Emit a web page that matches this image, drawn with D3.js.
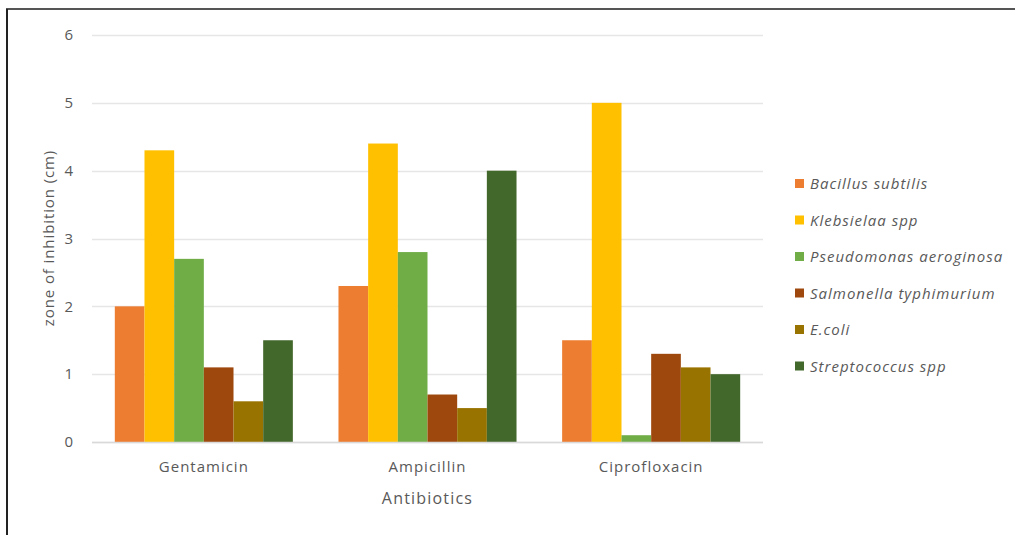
<!DOCTYPE html>
<html>
<head>
<meta charset="utf-8">
<script src="https://cdn.jsdelivr.net/npm/d3@7"></script>
<style>
  html, body { margin: 0; padding: 0; background: #fff; }
  svg { display: block; }
  text { font-family: "Open Sans", "DejaVu Sans", sans-serif; fill: #595959; }
</style>
</head>
<body>
<svg id="chart" width="1015" height="535"></svg>
<script>
// Antibiotics tested and bacterial strains
const antibiotics = ["Gentamicin", "Ampicillin", "Ciprofloxacin"];
const strains = ["Bacillus subtilis", "Klebsielaa spp", "Pseudomonas aeroginosa",
                 "Salmonella typhimurium", "E.coli", "Streptococcus spp"];

// Zone of inhibition (cm), one array per strain, ordered as antibiotics
const bacillusSubtilis      = [2.0, 2.3, 1.5];
const klebsielaaSpp         = [4.3, 4.4, 5.0];
const pseudomonasAeroginosa = [2.7, 2.8, 0.1];
const salmonellaTyphimurium = [1.1, 0.7, 1.3];
const eColi                 = [0.6, 0.5, 1.1];
const streptococcusSpp      = [1.5, 4.0, 1.0];

const yTicks = [0, 1, 2, 3, 4, 5, 6];
const colors = ["#ED7D31", "#FFC000", "#70AD47", "#9E480E", "#997300", "#43682B"];

const seriesValues = [bacillusSubtilis, klebsielaaSpp, pseudomonasAeroginosa,
                      salmonellaTyphimurium, eColi, streptococcusSpp];

const svg = d3.select("#chart");

// frame lines (top and left)
svg.append("line").attr("x1", 6).attr("x2", 1015).attr("y1", 9).attr("y2", 9)
  .attr("stroke", "#555").attr("stroke-width", 2);
svg.append("line").attr("x1", 7).attr("x2", 7).attr("y1", 9).attr("y2", 535)
  .attr("stroke", "#222").attr("stroke-width", 2);

const plot = { left: 92, right: 763, top: 35, bottom: 442 };

const x0 = d3.scaleBand().domain(antibiotics)
  .range([plot.left, plot.right]).paddingInner(0.204).paddingOuter(0.102);
const x1 = d3.scaleBand().domain(strains).range([0, x0.bandwidth()]);
const y = d3.scaleLinear().domain([0, 6]).range([plot.bottom, plot.top]);

// gridlines
svg.append("g").selectAll("line").data(yTicks).join("line")
  .attr("x1", plot.left).attr("x2", plot.right)
  .attr("y1", d => Math.round(y(d)) + 0.5).attr("y2", d => Math.round(y(d)) + 0.5)
  .attr("stroke", "#e6e6e6").attr("stroke-width", 1.5);

// y axis tick labels
const yAxis = svg.append("g").attr("transform", `translate(${plot.left},0)`)
  .call(d3.axisLeft(y).tickValues(yTicks).tickFormat(d3.format("d")).tickSize(0).tickPadding(19));
yAxis.select(".domain").remove();
yAxis.selectAll("text").style("font-size", "15px").attr("fill", "#595959");

// bars
const groups = svg.append("g").selectAll("g").data(antibiotics).join("g")
  .attr("transform", d => `translate(${x0(d)},0)`);
groups.selectAll("rect")
  .data((a, ai) => strains.map((s, si) => ({ s, si, v: seriesValues[si][ai] })))
  .join("rect")
  .attr("x", d => x1(d.s))
  .attr("width", x1.bandwidth())
  .attr("y", d => y(d.v))
  .attr("height", d => y(0) - y(d.v))
  .attr("fill", d => colors[d.si]);

// x axis category labels
const xAxis = svg.append("g").attr("transform", `translate(0,${plot.bottom})`)
  .call(d3.axisBottom(x0).tickSize(0).tickPadding(19));
xAxis.select(".domain").attr("stroke", "#d9d9d9").attr("stroke-width", 1.5)
  .attr("d", `M${plot.left},0.5H${plot.right}`);
xAxis.selectAll("text").style("font-size", "15px").style("letter-spacing", "1px")
  .attr("fill", "#595959");

// axis titles
svg.append("text").attr("x", (plot.left + plot.right) / 2).attr("y", 504)
  .attr("text-anchor", "middle").style("font-size", "16px").style("letter-spacing", "1.2px")
  .text("Antibiotics");
svg.append("text").attr("transform", "translate(54,238) rotate(-90)")
  .attr("text-anchor", "middle").style("font-size", "15px").style("letter-spacing", "0.9px")
  .text("zone of inhibition (cm)");

// legend
const legend = svg.append("g").selectAll("g").data(strains).join("g")
  .attr("transform", (d, i) => `translate(795,${184 + i * 36.5})`);
legend.append("rect").attr("x", 0).attr("y", -5).attr("width", 9).attr("height", 9)
  .attr("fill", (d, i) => colors[i]);
legend.append("text").attr("x", 15).attr("y", 0).attr("dy", "0.35em")
  .style("font-size", "15px").style("font-style", "italic").style("letter-spacing", "1px")
  .text(d => d);
</script>
</body>
</html>
